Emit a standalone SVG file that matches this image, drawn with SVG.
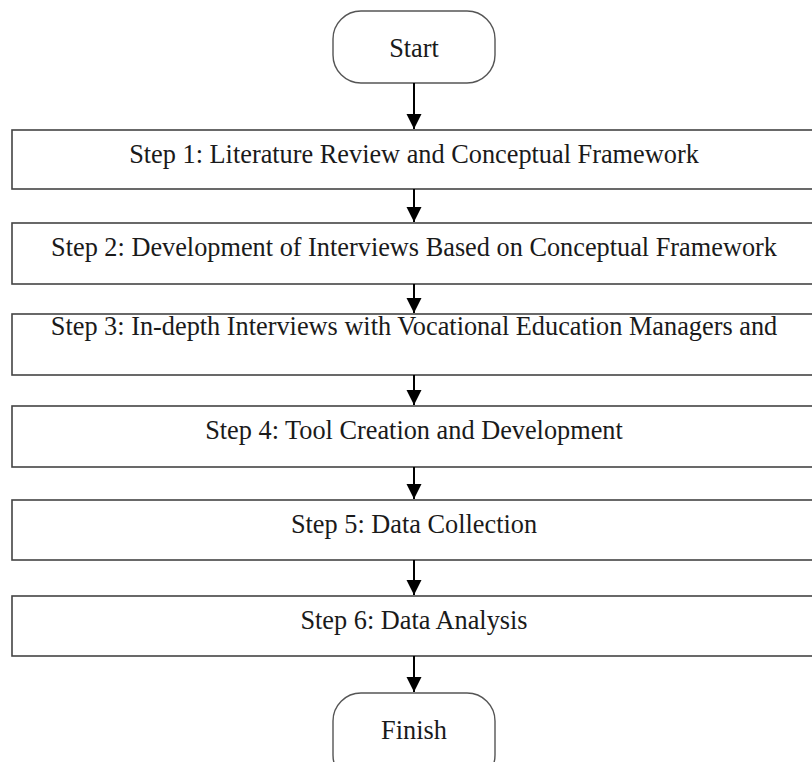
<svg xmlns="http://www.w3.org/2000/svg" width="812" height="762" viewBox="0 0 812 762">
<style>
.term{fill:#fff;stroke:#555;stroke-width:1.4}
.box{fill:#fff;stroke:#444;stroke-width:1.6}
.t{font-family:"Liberation Serif","Times New Roman",serif;font-size:26.3px;fill:#1a1a1a;text-anchor:middle}
.c{stroke:#000;stroke-width:2;fill:none}
</style>
<defs>
<marker id="ah" markerUnits="userSpaceOnUse" markerWidth="16" markerHeight="16" refX="15" refY="8" orient="auto" viewBox="0 0 16 16">
<path d="M0,0.5 L15,8 L0,15.5 Z" fill="#000"/>
</marker>
</defs>
<rect width="812" height="762" fill="#fff"/>
<g id="start"><rect class="term" x="333" y="11" width="162" height="72" rx="28"/><text class="t" x="414" y="57">Start</text></g>
<g id="step1"><rect class="box" x="12" y="130" width="820" height="59"/><text class="t" x="414" y="163">Step 1: Literature Review and Conceptual Framework</text></g>
<g id="step2"><rect class="box" x="12" y="223" width="820" height="61"/><text class="t" x="414" y="256">Step 2: Development of Interviews Based on Conceptual Framework</text></g>
<g id="step3"><rect class="box" x="12" y="314" width="820" height="61"/><text class="t" x="414" y="335">Step 3: In-depth Interviews with Vocational Education Managers and</text></g>
<g id="step4"><rect class="box" x="12" y="406" width="820" height="61"/><text class="t" x="414" y="439">Step 4: Tool Creation and Development</text></g>
<g id="step5"><rect class="box" x="12" y="500" width="820" height="60"/><text class="t" x="414" y="533">Step 5: Data Collection</text></g>
<g id="step6"><rect class="box" x="12" y="596" width="820" height="60"/><text class="t" x="414" y="629">Step 6: Data Analysis</text></g>
<g id="finish"><rect class="term" x="333" y="693" width="162" height="90" rx="28"/><text class="t" x="414" y="739">Finish</text></g>
<g id="connectors">
<line class="c" x1="414" y1="83" x2="414" y2="129" marker-end="url(#ah)"/>
<line class="c" x1="414" y1="189" x2="414" y2="222" marker-end="url(#ah)"/>
<line class="c" x1="414" y1="284" x2="414" y2="313" marker-end="url(#ah)"/>
<line class="c" x1="414" y1="375" x2="414" y2="405" marker-end="url(#ah)"/>
<line class="c" x1="414" y1="467" x2="414" y2="499" marker-end="url(#ah)"/>
<line class="c" x1="414" y1="560" x2="414" y2="595" marker-end="url(#ah)"/>
<line class="c" x1="414" y1="656" x2="414" y2="692" marker-end="url(#ah)"/>
</g>
</svg>
